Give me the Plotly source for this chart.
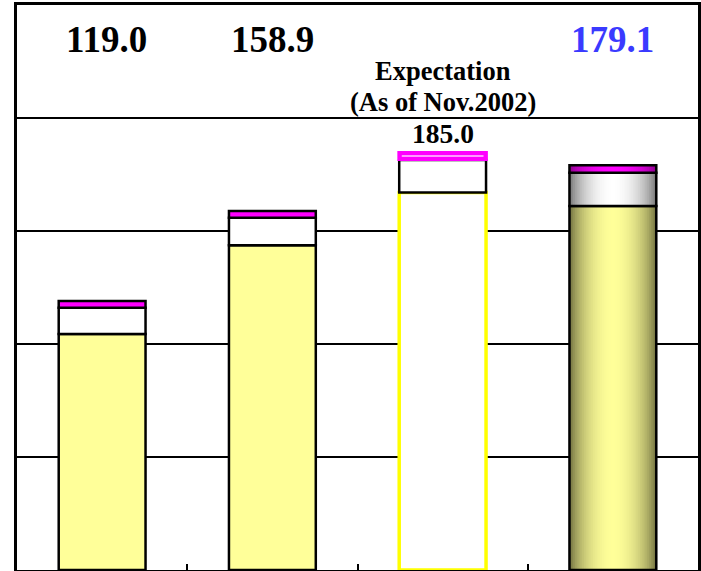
import plotly.graph_objects as go

# ---- data ----
categories = ["A", "B", "Expectation", "D"]
yellow_part = [104.4, 143.7, 167.0, 161.1]
white_part = [11.6, 12.2, 14.4, 14.7]
magenta_part = [3.0, 3.0, 3.6, 3.3]
total_labels = ["119.0", "158.9", "185.0", "179.1"]
expect_label = ["Expectation", "(As of Nov.2002)"]

xpos = list(range(len(categories)))
BW = 0.51
FONT = "Liberation Serif, Times New Roman, serif"

fig = go.Figure()


def add_bar(x, base, h, fill, line_color, line_w, width=BW):
    fig.add_trace(go.Bar(
        x=[x], y=[h], base=[base], width=[width],
        marker=dict(color=fill, line=dict(color=line_color, width=line_w)),
        showlegend=False, hoverinfo="skip"))


def lerp(c1, c2, t):
    return "rgb(%d,%d,%d)" % tuple(round(a + (b - a) * t) for a, b in zip(c1, c2))


def add_gradient(x, base, h, edge, center, n=24):
    for k in range(n):
        r = 1 - k / n
        t = (1 - r * r) ** 0.8
        add_bar(x, base, h, lerp(edge, center, t), "rgba(0,0,0,0)", 0, width=BW * r)
    add_bar(x, base, h, "rgba(0,0,0,0)", "black", 2.5)


for i in xpos:
    b0 = 0
    b1 = yellow_part[i]
    b2 = b1 + white_part[i]
    if i in (0, 1):
        add_bar(i, b0, yellow_part[i], "#ffff99", "black", 2.5)
        add_bar(i, b1, white_part[i], "white", "black", 2.5)
        add_bar(i, b2, magenta_part[i], "#ff00ff", "black", 2.5)
    elif i == 2:
        add_bar(i, b0, yellow_part[i], "white", "#ffff00", 3.5)
        add_bar(i, b1, white_part[i], "white", "black", 2.5)
        add_bar(i, b2, magenta_part[i], "#ff00ff", "#ff00ff", 2, width=BW + 0.01)
        add_bar(i, b2 + magenta_part[i] * 0.45, magenta_part[i] * 0.12, "#ff99ff",
                "rgba(0,0,0,0)", 0, width=BW - 0.03)
    else:
        add_gradient(i, b0, yellow_part[i], (115, 115, 65), (255, 255, 153))
        add_gradient(i, b1, white_part[i], (120, 120, 120), (255, 255, 255))
        add_gradient(i, b2, magenta_part[i], (140, 0, 140), (255, 0, 255))

# annotations
label_shift = {0: 0.025, 1: 0.0, 3: 0.0}
for i in (0, 1, 3):
    fig.add_annotation(x=i + label_shift[i], y=234.8, text="<b>%s</b>" % total_labels[i],
                       showarrow=False,
                       font=dict(family=FONT, size=37,
                                 color="#3a3aff" if i == 3 else "black"),
                       yanchor="middle")
fig.add_annotation(x=2, y=221, text="<b>%s</b>" % expect_label[0], showarrow=False,
                   font=dict(family=FONT, size=26.5, color="black"), yanchor="middle")
fig.add_annotation(x=2, y=207.3, text="<b>%s</b>" % expect_label[1], showarrow=False,
                   font=dict(family=FONT, size=26.5, color="black"), yanchor="middle")
fig.add_annotation(x=2, y=193.3, text="<b>%s</b>" % total_labels[2], showarrow=False,
                   font=dict(family=FONT, size=27.5, color="black"), yanchor="middle")

fig.update_layout(
    width=701, height=571,
    margin=dict(l=17, r=3, t=5, b=1),
    barmode="overlay",
    paper_bgcolor="white", plot_bgcolor="white",
    xaxis=dict(range=[-0.5, 3.5], showgrid=False, zeroline=False,
               tickvals=[0.5, 1.5, 2.5], ticks="inside", ticklen=6, tickwidth=1.5,
               tickcolor="black", showticklabels=False,
               showline=True, linecolor="black", linewidth=2.5, mirror=True),
    yaxis=dict(range=[0, 250], tickvals=[50, 100, 150, 200], showgrid=True,
               gridcolor="black", gridwidth=2, zeroline=False, showticklabels=False,
               showline=True, linecolor="black", linewidth=2.5, mirror=True),
)

fig.write_html("out.html",
               config={"displayModeBar": False},
               post_script="document.body.style.margin='0';"
                           "document.body.style.overflow='hidden';")
